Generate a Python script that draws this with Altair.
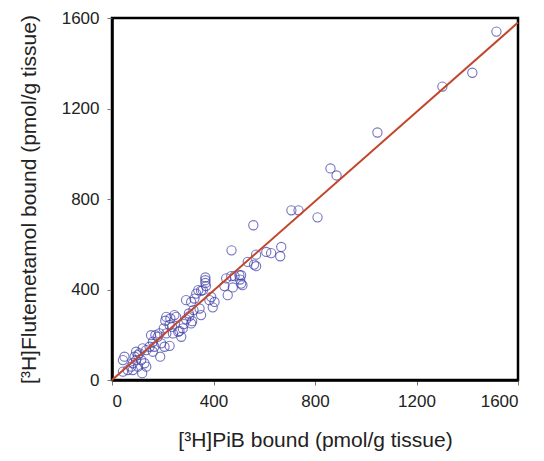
import altair as alt
import pandas as pd

# [3H]PiB bound (x) vs [3H]Flutemetamol bound (y), pmol/g tissue
pib = [1515, 1420, 1302, 1046, 861, 885, 810, 707, 735, 557, 471, 667, 663, 608, 627,
       568, 535, 560, 568, 509, 509, 514, 483, 470, 450, 443, 476, 456, 368, 368, 368,
       370, 340, 351, 325, 312, 391, 384, 404, 397, 345, 351, 321, 305, 292, 283, 266,
       316, 312, 246, 230, 214, 210, 227, 237, 261, 273, 204, 214, 154, 171, 194, 207,
       227, 161, 167, 190, 121, 135, 148, 95, 102, 89, 115, 128, 135, 49, 43, 76, 62,
       43, 119, 95, 82, 502, 505, 358, 332, 292, 303, 253, 240, 279, 187, 180, 108,
       161, 82, 102]
flute = [1540, 1358, 1297, 1094, 935, 904, 719, 750, 750, 684, 573, 588, 547, 566, 561,
         554, 522, 510, 503, 463, 426, 419, 459, 459, 449, 415, 409, 375, 453, 441, 429,
         415, 397, 394, 360, 345, 367, 353, 345, 321, 316, 287, 309, 282, 268, 247, 217,
         260, 250, 287, 272, 279, 262, 243, 235, 213, 191, 228, 206, 198, 198, 162, 147,
         151, 169, 147, 103, 140, 132, 147, 125, 110, 103, 88, 74, 59, 103, 88, 59, 44,
         37, 30, 88, 74, 463, 444, 397, 382, 353, 294, 279, 206, 228, 206, 191, 118,
         125, 44, 59]

# identity-like fit line
fit_x = [0, 1600]
fit_y = [0, 1580]

ticks = [0, 400, 800, 1200, 1600]

pts = pd.DataFrame({"pib": pib, "flute": flute})
fit = pd.DataFrame({"pib": fit_x, "flute": fit_y})

xscale = alt.Scale(domain=[0, 1600], nice=False)
yscale = alt.Scale(domain=[0, 1600], nice=False)

xaxis = alt.Axis(values=ticks, format="d", title="[³H]PiB bound (pmol/g tissue)", grid=False,
                 tickSize=5, labelPadding=8, titlePadding=20)
yaxis = alt.Axis(values=ticks, format="d", title="[³H]Flutemetamol bound (pmol/g tissue)", grid=False,
                 tickSize=5, labelPadding=8, titlePadding=22)

points = alt.Chart(pts).mark_point(
    shape="circle", filled=False, size=85, stroke="#3a3aa6", strokeWidth=1.1
).encode(
    x=alt.X("pib:Q", scale=xscale, axis=xaxis),
    y=alt.Y("flute:Q", scale=yscale, axis=yaxis),
)

line = alt.Chart(fit).mark_line(color="#c2462b", strokeWidth=2).encode(
    x=alt.X("pib:Q", scale=xscale),
    y=alt.Y("flute:Q", scale=yscale),
)

chart = alt.layer(points, line).properties(
    width=406, height=362,
    autosize=alt.AutoSizeParams(type="none"),
    padding={"left": 104, "top": 10, "right": 16, "bottom": 81},
    background="white",
).configure_view(
    stroke="black", strokeWidth=2.5
).configure_axis(
    labelFont="Liberation Sans", titleFont="Liberation Sans",
    labelFontSize=17, titleFontSize=21, titleFontWeight="normal",
    labelColor="#222222", titleColor="#222222",
    domainColor="black", domainWidth=2.5, tickColor="#777777",
)

chart.save("out.html", embed_options={"renderer": "svg", "actions": False})
